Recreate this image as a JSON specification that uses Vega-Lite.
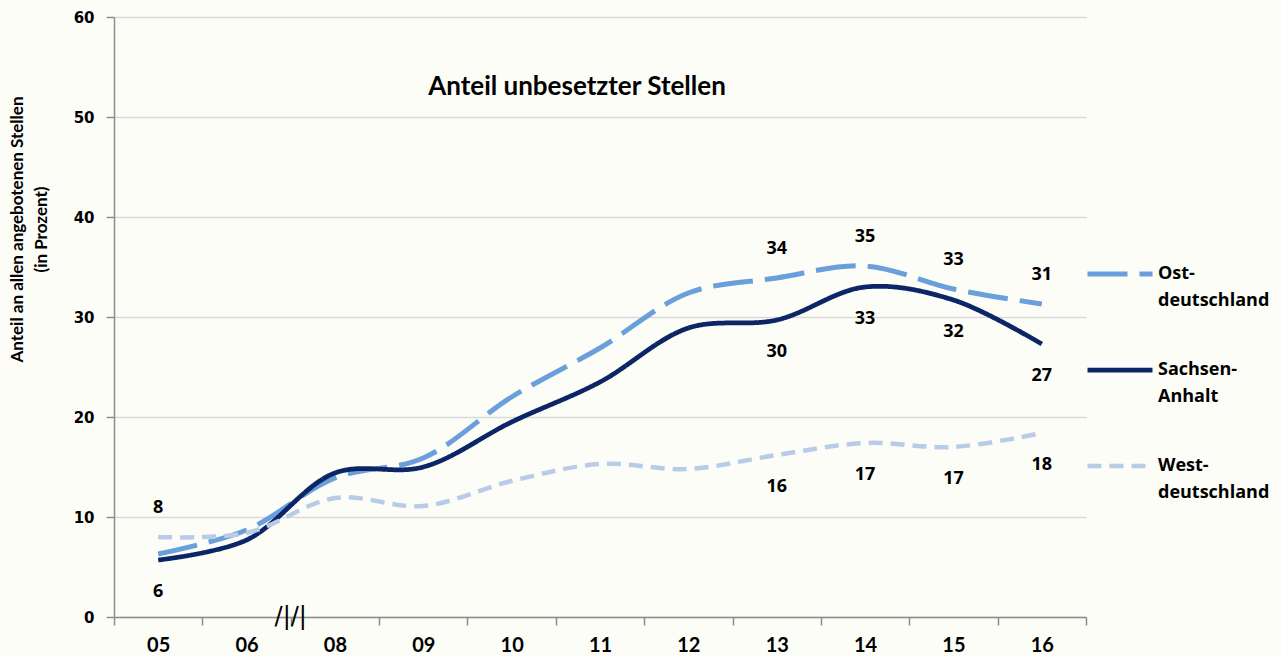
{
  "$schema": "https://vega.github.io/schema/vega-lite/v6.json",
  "width": 972,
  "height": 600,
  "autosize": {"type": "none"},
  "padding": {"left": 114, "top": 17, "right": 195, "bottom": 39},
  "background": "#fdfdf8",
  "title": {
    "text": "Anteil unbesetzter Stellen",
    "font": "Lato",
    "fontSize": 26,
    "fontWeight": "bold",
    "color": "#000000",
    "anchor": "middle",
    "dx": -23,
    "offset": -103,
    "baseline": "middle"
  },
  "config": {
    "view": {"stroke": null},
    "axis": {"grid": false},
    "style": {"guide-label": {"lineHeight": 27}}
  },
  "data": {
    "values": [
      {"year": "05", "series": "Ostdeutschland", "value": 6.3},
      {"year": "06", "series": "Ostdeutschland", "value": 8.7},
      {"year": "08", "series": "Ostdeutschland", "value": 13.9},
      {"year": "09", "series": "Ostdeutschland", "value": 15.9},
      {"year": "10", "series": "Ostdeutschland", "value": 22.0},
      {"year": "11", "series": "Ostdeutschland", "value": 26.9},
      {"year": "12", "series": "Ostdeutschland", "value": 32.4},
      {"year": "13", "series": "Ostdeutschland", "value": 33.9},
      {"year": "14", "series": "Ostdeutschland", "value": 35.1},
      {"year": "15", "series": "Ostdeutschland", "value": 32.8},
      {"year": "16", "series": "Ostdeutschland", "value": 31.3},
      {"year": "05", "series": "Sachsen-Anhalt", "value": 5.7},
      {"year": "06", "series": "Sachsen-Anhalt", "value": 7.7},
      {"year": "08", "series": "Sachsen-Anhalt", "value": 14.4},
      {"year": "09", "series": "Sachsen-Anhalt", "value": 15.0},
      {"year": "10", "series": "Sachsen-Anhalt", "value": 19.5},
      {"year": "11", "series": "Sachsen-Anhalt", "value": 23.5},
      {"year": "12", "series": "Sachsen-Anhalt", "value": 28.9},
      {"year": "13", "series": "Sachsen-Anhalt", "value": 29.7},
      {"year": "14", "series": "Sachsen-Anhalt", "value": 33.0},
      {"year": "15", "series": "Sachsen-Anhalt", "value": 31.7},
      {"year": "16", "series": "Sachsen-Anhalt", "value": 27.3},
      {"year": "05", "series": "Westdeutschland", "value": 8.0},
      {"year": "06", "series": "Westdeutschland", "value": 8.4},
      {"year": "08", "series": "Westdeutschland", "value": 11.9},
      {"year": "09", "series": "Westdeutschland", "value": 11.1},
      {"year": "10", "series": "Westdeutschland", "value": 13.6},
      {"year": "11", "series": "Westdeutschland", "value": 15.3},
      {"year": "12", "series": "Westdeutschland", "value": 14.8},
      {"year": "13", "series": "Westdeutschland", "value": 16.2},
      {"year": "14", "series": "Westdeutschland", "value": 17.4},
      {"year": "15", "series": "Westdeutschland", "value": 17.0},
      {"year": "16", "series": "Westdeutschland", "value": 18.4}
    ]
  },
  "encoding": {
    "x": {
      "field": "year",
      "type": "ordinal",
      "bandPosition": 0.5,
      "scale": {"type": "band", "paddingInner": 0, "paddingOuter": 0},
      "axis": {
        "title": null,
        "labelAngle": 0,
        "labelFont": "Lato",
        "labelFontWeight": "bold",
        "labelFontSize": 20,
        "labelColor": "#000000",
        "labelPadding": 10,
        "tickBand": "extent",
        "tickSize": 8,
        "tickColor": "#8c8c8c",
        "domainColor": "#8c8c8c",
        "domainWidth": 1.5,
        "tickWidth": 1.5
      }
    },
    "y": {
      "field": "value",
      "type": "quantitative",
      "scale": {"domain": [0, 60], "nice": false},
      "axis": {
        "values": [0, 10, 20, 30, 40, 50, 60],
        "grid": true,
        "gridColor": "#d9d9d9",
        "gridWidth": 1.5,
        "tickSize": 8,
        "tickColor": "#8c8c8c",
        "tickWidth": 1.5,
        "domainColor": "#8c8c8c",
        "domainWidth": 1.5,
        "labelFont": "DejaVu Sans",
        "labelFontWeight": "bold",
        "labelFontSize": 15,
        "labelColor": "#000000",
        "labelPadding": 12,
        "title": ["Anteil  an allen angebotenen Stellen", "(in Prozent)"],
        "titleFont": "Lato",
        "titleFontWeight": "bold",
        "titleFontSize": 17,
        "titleColor": "#000000",
        "titleLineHeight": 24,
        "titlePadding": 23,
        "titleY": 212
      }
    }
  },
  "layer": [
    {
      "mark": {"type": "line", "interpolate": "catmull-rom", "strokeCap": "butt"},
      "encoding": {
        "stroke": {
          "field": "series",
          "type": "nominal",
          "scale": {
            "domain": ["Ostdeutschland", "Sachsen-Anhalt", "Westdeutschland"],
            "range": ["#6a9fdc", "#0b2566", "#b8cbe7"]
          },
          "legend": {
            "orient": "none",
            "legendX": 971,
            "legendY": 222,
            "title": null,
            "padding": 0,
            "symbolType": "stroke",
            "symbolSize": 4225,
            "labelFont": "Open Sans",
            "labelFontWeight": "bold",
            "labelFontSize": 18,
            "labelColor": "#000000",
            "labelOffset": 3,
            "rowPadding": 25,
            "labelExpr": "datum.label == 'Ostdeutschland' ? ['Ost-', 'deutschland'] : datum.label == 'Sachsen-Anhalt' ? ['Sachsen-', 'Anhalt'] : ['West-', 'deutschland']"
          }
        },
        "strokeDash": {
          "field": "series",
          "type": "nominal",
          "scale": {
            "domain": ["Ostdeutschland", "Sachsen-Anhalt", "Westdeutschland"],
            "range": [[40, 12], [1, 0], [14, 8]]
          }
        },
        "strokeWidth": {
          "field": "series",
          "type": "nominal",
          "scale": {
            "domain": ["Ostdeutschland", "Sachsen-Anhalt", "Westdeutschland"],
            "range": [5, 4.5, 5]
          }
        }
      }
    },
    {
      "transform": [
        {"filter": "(datum.series == 'Ostdeutschland' && datum.year >= '13') || (datum.series == 'Westdeutschland' && datum.year == '05')"}
      ],
      "mark": {"type": "text", "font": "Open Sans", "fontWeight": "bold", "fontSize": 18, "color": "#000000", "dy": -29, "baseline": "middle"},
      "encoding": {
        "text": {"field": "value", "type": "quantitative", "format": ".0f"}
      }
    },
    {
      "transform": [
        {"filter": "(datum.series == 'Sachsen-Anhalt' && (datum.year >= '13' || datum.year == '05')) || (datum.series == 'Westdeutschland' && datum.year >= '13')"}
      ],
      "mark": {"type": "text", "font": "Open Sans", "fontWeight": "bold", "fontSize": 18, "color": "#000000", "dy": 32, "baseline": "middle"},
      "encoding": {
        "text": {"field": "value", "type": "quantitative", "format": ".0f"}
      }
    },
    {
      "data": {"values": [{"year": "06", "value": 0, "sym": "/|/|"}]},
      "mark": {"type": "text", "font": "DejaVu Sans", "fontSize": 24, "fontWeight": "normal", "color": "#000000", "baseline": "middle", "align": "center"},
      "encoding": {
        "x": {"field": "year", "type": "ordinal", "bandPosition": 1},
        "y": {"field": "value", "type": "quantitative"},
        "text": {"field": "sym", "type": "nominal"}
      }
    }
  ]
}
